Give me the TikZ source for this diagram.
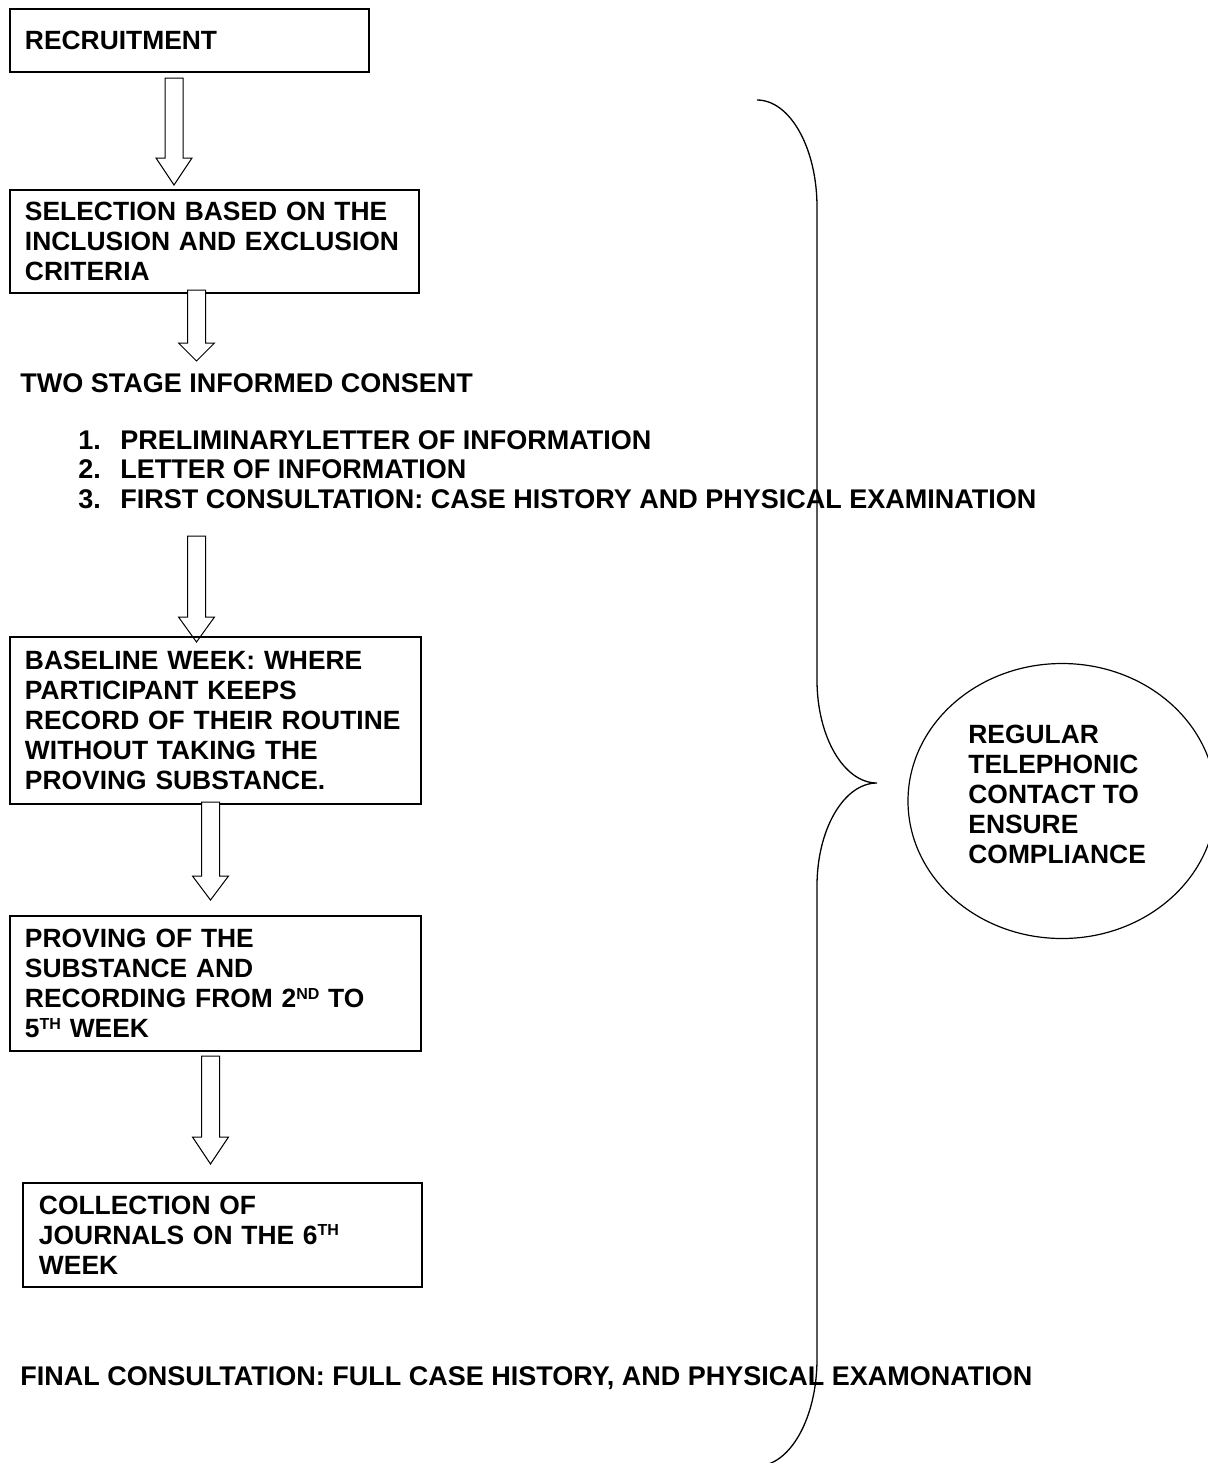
\documentclass[tikz,border=0pt]{standalone}
\usepackage{fontspec}
\setmainfont{Liberation Sans}
\usetikzlibrary{shapes.geometric}

\tikzset{
  stepbox/.style={draw, line width=1pt, anchor=north west, align=left,
    inner xsep=7.5pt, inner ysep=0pt, outer sep=0pt,
    font=\bfseries\fontsize{13.2pt}{15pt}\selectfont},
  steptext/.style={anchor=base west, inner sep=0pt,
    font=\bfseries\fontsize{13.5pt}{15pt}\selectfont},
  hollow/.style={draw, line width=0.5pt, fill=white}
}

% small raised ordinal letters
\newcommand{\ordsup}[1]{\raisebox{4.2pt}{\fontsize{8pt}{8pt}\selectfont #1}}

% hollow block arrow: x, top, head start, tip
\newcommand{\hollowarrow}[4]{%
  \draw[hollow] (#1-9,#2) -- (#1+9,#2) -- (#1+9,#3) -- (#1+18,#3)
    -- (#1,#4) -- (#1-18,#3) -- (#1-9,#3) -- cycle;}

\begin{document}
\begin{tikzpicture}[x=0.5pt, y=-0.5pt]
		\useasboundingbox (0,0) rectangle (1207,1463);

		% Recruitment and selection
		\node[stepbox, minimum width=179.5pt, minimum height=31.5pt, text width=164.5pt]
			(Recruit) at (10,9) {RECRUITMENT};
		\hollowarrow{174}{78}{158}{185}
		\node[stepbox, minimum width=204.5pt, minimum height=51.5pt, text width=189.5pt]
			(Select) at (10,190) {SELECTION BASED ON THE\\INCLUSION AND EXCLUSION\\CRITERIA};
		\hollowarrow{196.5}{290}{343}{361}

		% Consent
		\node[steptext] (Consent) at (20,392) {TWO STAGE INFORMED CONSENT};
		\node[steptext] (Num1) at (78,449) {1.};
		\node[steptext] (Item1) at (120,449) {PRELIMINARYLETTER OF INFORMATION};
		\node[steptext] (Num2) at (78,478) {2.};
		\node[steptext] (Item2) at (120,478) {LETTER OF INFORMATION};
		\node[steptext] (Num3) at (78,508) {3.};
		\node[steptext] (Item3) at (120,508) {FIRST CONSULTATION: CASE HISTORY AND PHYSICAL EXAMINATION};
		\hollowarrow{196.5}{536}{617}{642}

		% Baseline and proving
		\node[stepbox, minimum width=205.5pt, minimum height=83.5pt, text width=190.5pt]
			(Baseline) at (10,637) {BASELINE WEEK: WHERE\\PARTICIPANT KEEPS\\RECORD OF THEIR ROUTINE\\WITHOUT TAKING THE\\PROVING SUBSTANCE.};
		\hollowarrow{210.5}{802}{876}{900}
		\node[stepbox, minimum width=205.5pt, minimum height=67.5pt, text width=190.5pt]
			(Proving) at (10,916) {PROVING OF THE\\SUBSTANCE AND\\RECORDING FROM 2\ordsup{ND} TO\\5\ordsup{TH} WEEK};
		\hollowarrow{210.5}{1056}{1137}{1164}

		% Collection and final consultation
		\node[stepbox, inner xsep=8pt, minimum width=199.5pt, minimum height=52pt, text width=183.5pt]
			(Collect) at (23,1183) {COLLECTION OF\\JOURNALS ON THE 6\ordsup{TH}\\WEEK};
		\node[steptext] (Final) at (20,1385) {FINAL CONSULTATION: FULL CASE HISTORY, AND PHYSICAL EXAMONATION};

		% Brace and telephonic contact
		\draw[line width=0.65pt] (757,100) .. controls (790,100) and (817,148) .. (817,207)
			-- (817,680) .. controls (817,737) and (844,783) .. (877,783)
			.. controls (844,783) and (817,829) .. (817,886)
			-- (817,1359) .. controls (817,1418) and (790,1466) .. (757,1466);
		\node[ellipse, draw, line width=0.6pt, minimum width=154pt, minimum height=137.5pt]
			(Contact) at (1062,801) {};
		\node[align=left, inner sep=0pt, anchor=north west,
			font=\bfseries\fontsize{13.2pt}{15pt}\selectfont]
			(ContactText) at (968,725) {REGULAR\\TELEPHONIC\\CONTACT TO\\ENSURE\\COMPLIANCE};
	\end{tikzpicture}
\end{document}
